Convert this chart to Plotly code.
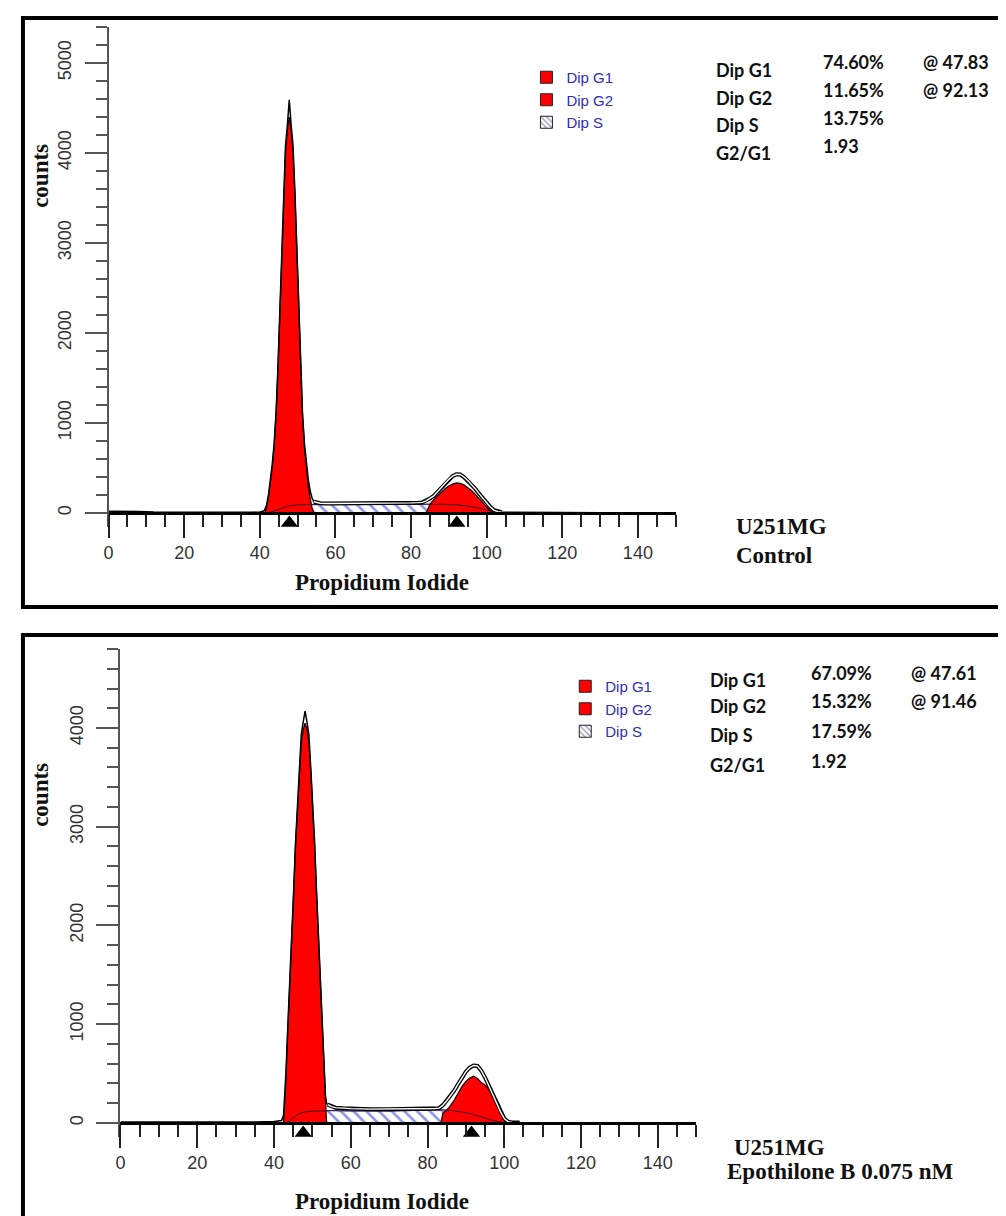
import plotly.graph_objects as go

W, H = 1006, 1216


def px(x):
    return x / W


def py(y):
    return 1 - y / H


# ---------------- data: top panel (U251MG Control) ----------------
top_g1_x = [41.3, 41.8, 42.3, 42.8, 43.3, 43.8, 44.3, 44.8, 45.3, 45.8, 46.3, 46.8, 47.3, 47.8,
            48.3, 48.8, 49.3, 49.8, 50.3, 50.8, 51.3, 51.8, 52.3, 52.8, 53.3, 53.8, 54.3]
top_g1_y = [0, 60, 170, 320, 510, 740, 1080, 1580, 2220, 2920, 3530, 4000, 4250, 4400,
            4250, 4000, 3530, 2920, 2220, 1580, 1080, 740, 510, 320, 170, 60, 0]

top_g2_x = [84, 84.5, 85, 86, 87, 88, 89, 90, 91, 92, 93, 94, 95, 96, 97, 98, 99, 100, 101, 101.5]
top_g2_y = [0, 60, 95, 148, 190, 235, 270, 300, 322, 333, 330, 312, 283, 250, 205, 160, 110, 60, 15, 0]

top_s_x = [42, 43, 44, 45, 46, 47, 48, 49, 50, 52, 55, 60, 65, 70, 75, 80, 84, 88, 92, 95, 98, 100, 102, 104]
top_s_y = [0, 10, 25, 42, 58, 70, 80, 86, 90, 93, 94, 92, 91, 92, 94, 97, 100, 98, 92, 78, 52, 33, 12, 0]

top_data_x = [0, 3, 8, 12, 20, 30, 38, 40, 41,
              41.3, 41.8, 42.3, 42.8, 43.3, 43.8, 44.3, 44.8, 45.3, 45.8, 46.3, 46.8, 47.3, 47.8,
              48.3, 48.8, 49.3, 49.8, 50.3, 50.8, 51.3, 51.8, 52.3, 52.8, 53.3, 53.8, 54.3,
              55, 56, 58, 60, 62, 65, 68, 70, 72, 75, 78, 80, 82,
              83, 84, 85, 86, 87, 88, 89, 90, 91, 92, 93, 94, 95, 96, 97, 98, 99, 100, 101, 102, 103, 104,
              110, 120, 130, 140, 150]
top_data_y = [20, 20, 16, 10, 8, 6, 8, 12, 22,
              35, 90, 200, 350, 540, 770, 1110, 1610, 2250, 2950, 3560, 4080, 4310, 4590,
              4310, 4080, 3560, 2950, 2250, 1610, 1110, 780, 560, 380, 250, 170, 125,
              115, 108, 105, 105, 104, 104, 105, 105, 106, 108, 110, 112, 115,
              118, 135, 160, 190, 235, 285, 335, 375, 410, 430, 428, 400, 360, 320, 270, 215, 165, 110, 65, 30, 15, 10,
              6, 5, 4, 3, 3]

top_means = [47.83, 92.13]
top_labels = ["Dip G1", "Dip G2", "Dip S", "G2/G1"]
top_values = ["74.60%", "11.65%", "13.75%", "1.93"]
top_at = ["@ 47.83", "@ 92.13"]
top_sample = ["U251MG", "Control"]

# ---------------- data: bottom panel (Epothilone B 0.075 nM) ----------------
bot_g1_x = [42.5, 42.8, 43.1, 43.6, 44.1, 44.6, 45.1, 45.6, 46.1, 46.6, 47.1, 47.6, 48.1,
            48.6, 49.1, 49.6, 50.1, 50.6, 51.1, 51.6, 52.1, 52.6, 53.1, 53.4, 53.7]
bot_g1_y = [0, 200, 430, 930, 1350, 1850, 2300, 2800, 3200, 3550, 3850, 3980, 4050,
            3980, 3850, 3550, 3200, 2800, 2300, 1850, 1350, 930, 430, 200, 0]

bot_g2_x = [83.5, 84, 85, 86, 87, 88, 89, 90, 91, 92, 93, 94, 95, 96, 97, 98, 99, 100, 100.5]
bot_g2_y = [0, 100, 130, 175, 235, 300, 370, 420, 455, 473, 450, 410, 385, 340, 270, 195, 110, 35, 0]

bot_s_x = [43, 44, 45, 46, 47, 48, 50, 52, 55, 60, 65, 70, 75, 80, 84, 86, 88, 90, 92, 94, 96, 98, 100, 102]
bot_s_y = [0, 20, 50, 80, 100, 112, 120, 125, 125, 122, 120, 122, 125, 130, 132, 128, 120, 105, 85, 60, 35, 15, 4, 0]

bot_data_x = [0, 10, 20, 30, 35, 40, 42,
              42.5, 42.8, 43.1, 43.6, 44.1, 44.6, 45.1, 45.6, 46.1, 46.6, 47.1, 47.6, 48.1,
              48.6, 49.1, 49.6, 50.1, 50.6, 51.1, 51.6, 52.1, 52.6, 53.1, 53.4, 53.7,
              54, 55, 56, 58, 60, 65, 70, 75, 78, 80, 82,
              83, 84, 85, 86, 87, 88, 89, 90, 91, 92, 93, 94, 95, 96, 97, 98, 99, 100, 101, 102,
              104, 110, 120, 130, 140, 150]
bot_data_y = [10, 8, 6, 6, 10, 15, 25,
              80, 280, 500, 980, 1390, 1880, 2330, 2830, 3230, 3580, 3930, 4060, 4170,
              4060, 3930, 3580, 3230, 2830, 2330, 1880, 1390, 970, 480, 280, 200,
              185, 165, 155, 148, 145, 140, 140, 142, 144, 145, 147,
              150, 180, 225, 275, 330, 395, 460, 520, 560, 582, 578, 530, 460, 375, 280, 195, 115, 45, 12, 5,
              4, 3, 3, 2, 2, 2]

bot_means = [47.61, 91.46]
bot_labels = ["Dip G1", "Dip G2", "Dip S", "G2/G1"]
bot_values = ["67.09%", "15.32%", "17.59%", "1.92"]
bot_at = ["@ 47.61", "@ 91.46"]
bot_sample = ["U251MG", "Epothilone B 0.075 nM"]

legend_names = ["Dip G1", "Dip G2", "Dip S"]

# ---------------- styling ----------------
RED = "#ff0000"
HATCH = "#2233c8"
SANS = "Liberation Sans"
SERIF = "Liberation Serif"
STAT = "Lato"

fig = go.Figure()


def add_panel(xa, ya, g1x, g1y, g2x, g2y, sx, sy, dx, dy, means, tri_y, legend):
    fig.add_trace(go.Scatter(
        x=sx, y=sy, xaxis=xa, yaxis=ya, mode="lines",
        line=dict(width=0.8, color=HATCH), fill="tozeroy", fillcolor="white",
        fillpattern=dict(shape="\\", fgcolor=HATCH, bgcolor="white", size=9, solidity=0.3),
        showlegend=False, hoverinfo="skip"))
    for gx, gy in ((g1x, g1y), (g2x, g2y)):
        fig.add_trace(go.Scatter(
            x=gx, y=gy, xaxis=xa, yaxis=ya, mode="lines",
            line=dict(color="#200000", width=1.3), fill="tozeroy", fillcolor=RED,
            showlegend=False, hoverinfo="skip"))
    fig.add_trace(go.Scatter(
        x=sx, y=sy, xaxis=xa, yaxis=ya, mode="lines",
        line=dict(color="#3a1030", width=1), showlegend=False, hoverinfo="skip"))
    fig.add_trace(go.Scatter(
        x=dx, y=dy, xaxis=xa, yaxis=ya, mode="lines",
        line=dict(color="black", width=1.5), showlegend=False, hoverinfo="skip"))
    sel = [i for i, v in enumerate(dx) if 54 <= v <= 104]
    segx = [dx[i] for i in sel]
    segy = [dy[i] for i in sel]
    fig.add_trace(go.Scatter(
        x=segx, y=segy, xaxis=xa, yaxis=ya, mode="lines",
        line=dict(color="black", width=4), showlegend=False, hoverinfo="skip"))
    fig.add_trace(go.Scatter(
        x=segx, y=segy, xaxis=xa, yaxis=ya, mode="lines",
        line=dict(color="white", width=1.4), showlegend=False, hoverinfo="skip"))
    fig.add_trace(go.Scatter(
        x=means, y=[tri_y] * len(means), xaxis=xa, yaxis=ya, mode="markers",
        marker=dict(symbol="triangle-up", size=15, color="black"),
        cliponaxis=False, showlegend=False, hoverinfo="skip"))
    # legend entries
    for i, nm in enumerate(legend_names):
        if i < 2:
            mk = dict(color=RED, line=dict(color="#222", width=1))
        else:
            mk = dict(color="white", line=dict(color="#222", width=1),
                      pattern=dict(shape="\\", fgcolor="#1f2a70", bgcolor="white", size=5, solidity=0.3))
        fig.add_trace(go.Bar(x=[None], y=[None], xaxis=xa, yaxis=ya, name=nm,
                             marker=mk, legend=legend, showlegend=True))


add_panel("x", "y", top_g1_x, top_g1_y, top_g2_x, top_g2_y, top_s_x, top_s_y,
          top_data_x, top_data_y, top_means, -112, "legend")
add_panel("x2", "y2", bot_g1_x, bot_g1_y, bot_g2_x, bot_g2_y, bot_s_x, bot_s_y,
          bot_data_x, bot_data_y, bot_means, -102, "legend2")


def xaxis_cfg(domain, pos):
    return dict(domain=domain, anchor="free", position=pos, range=[0, 150], tickmode="linear",
                tick0=0, dtick=20, ticks="outside", ticklen=23, tickwidth=1.7, tickcolor="#222",
                showline=True, linecolor="black", linewidth=2.5, showgrid=False, zeroline=False,
                tickfont=dict(family=SANS, size=18, color="#333"), ticklabelstandoff=0,
                minor=dict(dtick=5, tick0=0, ticklen=12, tickwidth=1.7, tickcolor="#222",
                           ticks="outside", showgrid=False),
                fixedrange=True)


def yaxis_cfg(domain, anchor, lo, top):
    return dict(domain=domain, anchor=anchor, range=[lo, top], tickmode="linear", tick0=0, dtick=1000,
                ticks="outside", ticklen=22, tickwidth=1.6, tickcolor="#555",
                showline=True, linecolor="#555", linewidth=2, showgrid=False, zeroline=False,
                tickangle=-90, tickfont=dict(family=SANS, size=18, color="#333"), ticklabelstandoff=6,
                minor=dict(dtick=200, tick0=0, ticklen=11, tickwidth=1.6, tickcolor="#555",
                           ticks="outside", showgrid=False),
                fixedrange=True)


annotations = []


def ann(text, x, y, font, xanchor="left", angle=0):
    annotations.append(dict(text=text, x=px(x), y=py(y), xref="paper", yref="paper",
                            xanchor=xanchor, yanchor="middle", showarrow=False,
                            textangle=angle, font=font))


stat_font = dict(family=STAT, size=18, color="#111")
serif_font = dict(family=SERIF, size=23, color="#111")

# top panel texts
label_y_top = [62, 90, 117, 145]
value_y_top = [54, 82, 110, 138]
for i, t in enumerate(top_labels):
    ann("<b>%s</b>" % t, 704, label_y_top[i], stat_font)
    ann("<b>%s</b>" % top_values[i], 812, value_y_top[i], stat_font)
for i, t in enumerate(top_at):
    ann("<b>%s</b>" % t, 913, value_y_top[i], stat_font)
ann("<b>%s</b>" % top_sample[0], 725, 518, serif_font)
ann("<b>%s</b>" % top_sample[1], 725, 547, serif_font)
ann("<b>Propidium Iodide</b>", 371, 574, serif_font, xanchor="center")
ann("<b>counts</b>", 27, 168, serif_font, xanchor="center", angle=-90)

# bottom panel texts
label_y_bot = [672, 698, 727, 757]
value_y_bot = [665, 693, 723, 753]
for i, t in enumerate(bot_labels):
    ann("<b>%s</b>" % t, 698, label_y_bot[i], stat_font)
    ann("<b>%s</b>" % bot_values[i], 800, value_y_bot[i], stat_font)
for i, t in enumerate(bot_at):
    ann("<b>%s</b>" % t, 900, value_y_bot[i], stat_font)
ann("<b>%s</b>" % bot_sample[0], 723, 1139, serif_font)
ann("<b>%s</b>" % bot_sample[1], 716, 1163, serif_font)
ann("<b>Propidium Iodide</b>", 371, 1193, serif_font, xanchor="center")
ann("<b>counts</b>", 27, 787, serif_font, xanchor="center", angle=-90)

shapes = [
    dict(type="rect", xref="paper", yref="paper", x0=px(10), x1=px(1003), y0=py(599), y1=py(10),
         line=dict(color="black", width=4), fillcolor="rgba(0,0,0,0)", layer="below"),
    dict(type="rect", xref="paper", yref="paper", x0=px(10), x1=px(1003), y0=py(1222), y1=py(627),
         line=dict(color="black", width=4), fillcolor="rgba(0,0,0,0)", layer="below"),
]

legend_font = dict(family=SANS, size=15, color="#2d2dbb")

# top: 0 count at 505 px, 0.09 px per count; bottom: 0 at 1115 px, 0.09875 px per count
fig.update_layout(
    width=W, height=H, margin=dict(l=0, r=0, t=0, b=0),
    paper_bgcolor="white", plot_bgcolor="rgba(0,0,0,0)",
    xaxis=xaxis_cfg([px(96), px(666)], py(505)),
    yaxis=yaxis_cfg([py(518.5), py(19)], "x", -150, 5400),
    xaxis2=xaxis_cfg([px(108), px(686.6)], py(1115)),
    yaxis2=yaxis_cfg([py(1128.8), py(641)], "x2", -140, 4800),
    legend=dict(x=px(516), y=py(53), xanchor="left", yanchor="top", font=legend_font,
                bgcolor="rgba(0,0,0,0)", tracegroupgap=0, itemclick=False, itemdoubleclick=False),
    legend2=dict(x=px(555), y=py(662), xanchor="left", yanchor="top", font=legend_font,
                 bgcolor="rgba(0,0,0,0)", tracegroupgap=0, itemclick=False, itemdoubleclick=False),
    annotations=annotations,
    shapes=shapes,
    showlegend=True,
    hovermode=False,
)

fig.write_html("out.html")
